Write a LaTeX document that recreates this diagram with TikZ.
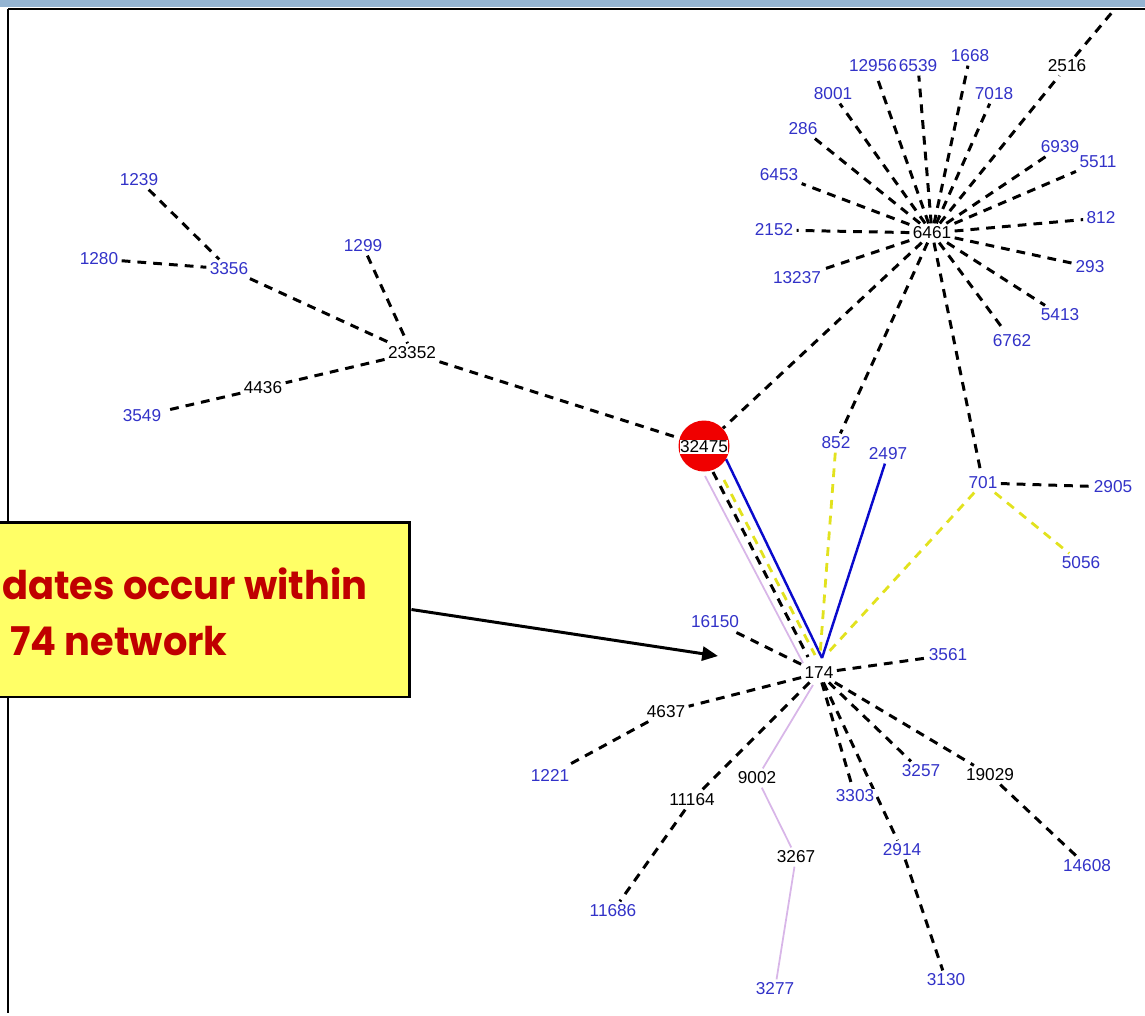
\documentclass[tikz,border=0pt]{standalone}
\usepackage{fontspec}
\setmainfont{Liberation Sans}
\newfontfamily\notefont{Poppins}[FakeStretch=0.97]
\usetikzlibrary{arrows.meta,calc,backgrounds}

\definecolor{bandblue}{HTML}{94B4D2}
\definecolor{lblblue}{HTML}{3232C8}
\definecolor{hubred}{HTML}{F00000}
\definecolor{edgeyellow}{HTML}{E2E21E}
\definecolor{edgelilac}{HTML}{D8B6E8}
\definecolor{edgeblue}{HTML}{0A0ACC}
\definecolor{notefill}{HTML}{FFFF66}
\definecolor{notetext}{HTML}{C00000}

\begin{document}
\begin{tikzpicture}[x=0.02cm, y=-0.02cm,
    lbl/.style={font=\fontsize{9.8}{11}\selectfont, text=lblblue, fill=white, inner sep=0.8pt, outer sep=1.2pt},
    blk/.style={lbl, text=black},
    dashedge/.style={black, line width=1.7pt, dash pattern=on 5pt off 4pt},
    yellowedge/.style={edgeyellow, line width=1.6pt, dash pattern=on 5pt off 4pt},
    lilacedge/.style={edgelilac, line width=1pt},
    blueedge/.style={edgeblue, line width=1.4pt},
    notebox/.style={draw=black, line width=1.7pt, fill=notefill, minimum width=8.4cm, minimum height=3.5cm},
    notelbl/.style={font=\notefont\bfseries\fontsize{22.5}{26}\selectfont, text=notetext, inner sep=0pt}]

\useasboundingbox (0,0) rectangle (1145,1015);

% frame
\fill[bandblue] (0,0) rectangle (1145,7);
\draw[line width=1.7pt] (8,9) -- (1145,9);
\draw[line width=1.7pt] (8,9) -- (8,1013);

% hub 32475
\node[circle, fill=hubred, minimum size=1.02cm, inner sep=0pt] (c) at (704,446) {};
\node[blk, fill=white, inner sep=0.3pt] (n32475) at (704,447) {32475};

% 6461 cluster
\node[blk] (n6461) at (932,233) {6461};
\node[blk] (n2516) at (1067,66) {2516};
\node[lbl] (n12956) at (873,66) {12956};
\node[lbl] (n6539) at (918,66) {6539};
\node[lbl] (n1668) at (970,56) {1668};
\node[lbl] (n8001) at (833,94) {8001};
\node[lbl] (n7018) at (994,94) {7018};
\node[lbl] (n286) at (803,129) {286};
\node[lbl] (n6939) at (1060,147) {6939};
\node[lbl] (n5511) at (1098,162) {5511};
\node[lbl] (n6453) at (779,175) {6453};
\node[lbl] (n2152) at (774,230) {2152};
\node[lbl] (n812) at (1101,218) {812};
\node[lbl] (n13237) at (797,278) {13237};
\node[lbl] (n293) at (1090,267) {293};
\node[lbl] (n5413) at (1060,315) {5413};
\node[lbl] (n6762) at (1012,341) {6762};
\coordinate (off) at (1114,10);

% left branch
\node[lbl] (n1239) at (139,180) {1239};
\node[lbl] (n1280) at (99,259) {1280};
\node[lbl] (n3356) at (229,269) {3356};
\node[lbl] (n1299) at (363,246) {1299};
\node[blk] (n23352) at (412,353) {23352};
\node[blk] (n4436) at (263,388) {4436};
\node[lbl] (n3549) at (142,416) {3549};

% 174 network
\node[blk] (h) at (819,673) {174};
\node[lbl] (n852) at (836,443) {852};
\node[lbl] (n2497) at (888,454) {2497};
\node[lbl] (n701) at (983,483) {701};
\node[lbl] (n2905) at (1113,487) {2905};
\node[lbl] (n5056) at (1081,563) {5056};
\node[lbl] (n16150) at (715,622) {16150};
\node[lbl] (n3561) at (948,655) {3561};
\node[blk] (n4637) at (666,712) {4637};
\node[lbl] (n1221) at (550,775) {1221};
\node[blk] (n9002) at (757,778) {9002};
\node[blk] (n11164) at (692,800) {11164};
\node[lbl] (n3303) at (855,796) {3303};
\node[lbl] (n3257) at (921,771) {3257};
\node[blk] (n19029) at (990,775) {19029};
\node[lbl] (n2914) at (902,850) {2914};
\node[blk] (n3267) at (796,857) {3267};
\node[lbl] (n14608) at (1087,866) {14608};
\node[lbl] (n11686) at (613,911) {11686};
\node[lbl] (n3130) at (946,980) {3130};
\node[lbl] (n3277) at (775,989) {3277};

\begin{scope}[on background layer]
  \foreach \a in {n12956,n6539,n1668,n7018,n2516,n8001,n286,n6453,n2152,n13237,
                  n6939,n5511,n812,n293,n5413,n6762,c,n852,n701}
    \draw[dashedge] (n6461) -- (\a);
  \draw[dashedge] (n2516) -- (off);
  \foreach \a/\b in {n1239/n3356,n1280/n3356,n3356/n23352,n1299/n23352,
                     n23352/n4436,n4436/n3549,n23352/c,n701/n2905}
    \draw[dashedge] (\a) -- (\b);
  \foreach \a in {n16150,n3561,n4637,n11164,n3303,n2914,n3257,n19029}
    \draw[dashedge] (h) -- (\a);
  \foreach \a/\b in {n4637/n1221,n11164/n11686,n2914/n3130,n19029/n14608}
    \draw[dashedge] (\a) -- (\b);
  % bundle 32475 -- 174
  \draw[lilacedge] ($(c)+(1,30)$) -- ($(h)+(-16,-10)$);
  \draw[dashedge] ($(c)+(9,26)$) -- ($(h)+(-11,-16)$);
  \draw[yellowedge] ($(c)+(20,34)$) -- ($(h)+(-4,-18)$);
  \draw[blueedge] ($(c)+(22,13)$) -- ($(h)+(3,-15)$);
  \draw[blueedge] (n2497) -- ($(h)+(3,-15)$);
  \draw[yellowedge] (n852) -- ($(h)+(1,-18)$);
  \draw[yellowedge] (n701) -- ($(h)+(6,-17)$);
  \draw[yellowedge] (n701) -- (n5056);
  \draw[lilacedge] ($(h)+(-6,12)$) -- (n9002) -- (n3267) -- (n3277);
\end{scope}

% callout
\node[notebox] (note) at (200,609.5) {};
\node[notelbl, anchor=base west] (line1) at (2,599) {dates occur within};
\node[notelbl, anchor=base west] (line2) at (10,655) {74 network};
\coordinate (tip) at (718,656);
\draw[line width=1.7pt, -{Triangle[length=9pt, width=8pt]}] (note.east) -- (tip);

\end{tikzpicture}
\end{document}
